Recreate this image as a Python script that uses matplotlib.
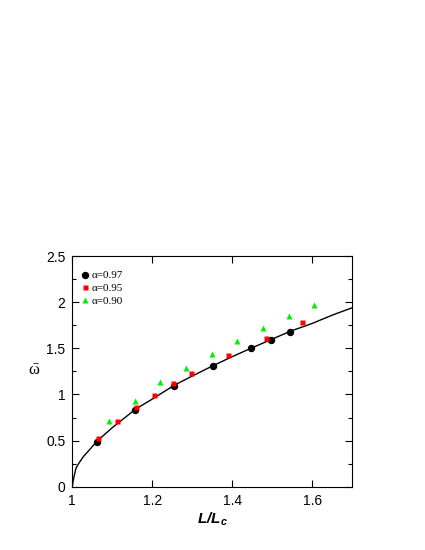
import matplotlib.pyplot as plt
from matplotlib.ticker import MultipleLocator

# theory curve
curve_x = [1.0, 1.003, 1.006, 1.0093, 1.015, 1.0275, 1.045, 1.061, 1.10, 1.158, 1.20, 1.255,
           1.30, 1.351, 1.40, 1.449, 1.50, 1.545, 1.60, 1.65, 1.70]
curve_y = [0.0, 0.08, 0.14, 0.20, 0.245, 0.325, 0.41, 0.49, 0.64, 0.84, 0.95, 1.10,
           1.20, 1.31, 1.41, 1.505, 1.60, 1.685, 1.77, 1.86, 1.94]

l97 = [1.061, 1.158, 1.255, 1.351, 1.448, 1.496, 1.544]
w97 = [0.49, 0.83, 1.09, 1.31, 1.50, 1.59, 1.68]

l95 = [1.065, 1.1125, 1.159, 1.205, 1.252, 1.298, 1.39, 1.4835, 1.575]
w95 = [0.53, 0.715, 0.86, 0.99, 1.12, 1.23, 1.43, 1.61, 1.785]

l90 = [1.092, 1.156, 1.22, 1.284, 1.349, 1.4125, 1.477, 1.542, 1.605]
w90 = [0.71, 0.93, 1.13, 1.29, 1.44, 1.58, 1.72, 1.845, 1.97]

plt.rcParams['font.family'] = ['Liberation Sans', 'DejaVu Sans']
plt.rcParams['mathtext.fontset'] = 'custom'
plt.rcParams['mathtext.rm'] = 'Liberation Serif'
plt.rcParams['mathtext.it'] = 'Liberation Serif'
plt.rcParams['mathtext.bfit'] = 'Liberation Sans:italic:bold'

fig = plt.figure(figsize=(4.25, 5.5), dpi=100)
ax = fig.add_axes([0.170, 0.115, 0.659, 0.4195])

ax.plot(curve_x, curve_y, color='black', lw=1.0, zorder=2)
ax.plot(l97, w97, 'o', color='black', ms=4.3, label='α=0.97', zorder=3)
ax.plot(l95, w95, 's', color='#ff0000', ms=3.6, mec='none', label='α=0.95', zorder=3)
ax.plot(l90, w90, '^', color='#00ee00', ms=4.8, mec='none', label='α=0.90', zorder=3)

ax.set_xlim(1, 1.7)
ax.set_ylim(0, 2.5)
ax.set_xticks([1, 1.2, 1.4, 1.6])
ax.set_xticklabels(['1', '1.2', '1.4', '1.6'])
ax.set_yticks([0, 0.5, 1, 1.5, 2, 2.5])
ax.set_yticklabels(['0', '0.5', '1', '1.5', '2', '2.5'])
ax.yaxis.set_minor_locator(MultipleLocator(0.25))
ax.tick_params(which='both', direction='in', top=True, right=True, labelsize=10)
ax.tick_params(which='major', length=5, width=0.8, pad=5)
ax.tick_params(which='minor', length=3, width=0.8)

ax.set_xlabel(r'$\mathbfit{L/L_c}$', fontsize=11, labelpad=2)
ax.set_ylabel(r'$\bar{\omega}$', fontsize=12, rotation=0)
ax.yaxis.set_label_coords(-0.137, 0.47)

leg = ax.legend(loc='upper left', frameon=False, handlelength=0.5, handletextpad=0.3,
                labelspacing=0.25, borderaxespad=0.5, bbox_to_anchor=(0.0, 0.98),
                prop={'family': 'Liberation Serif', 'size': 8})

fig.savefig('out.png', dpi=100)
